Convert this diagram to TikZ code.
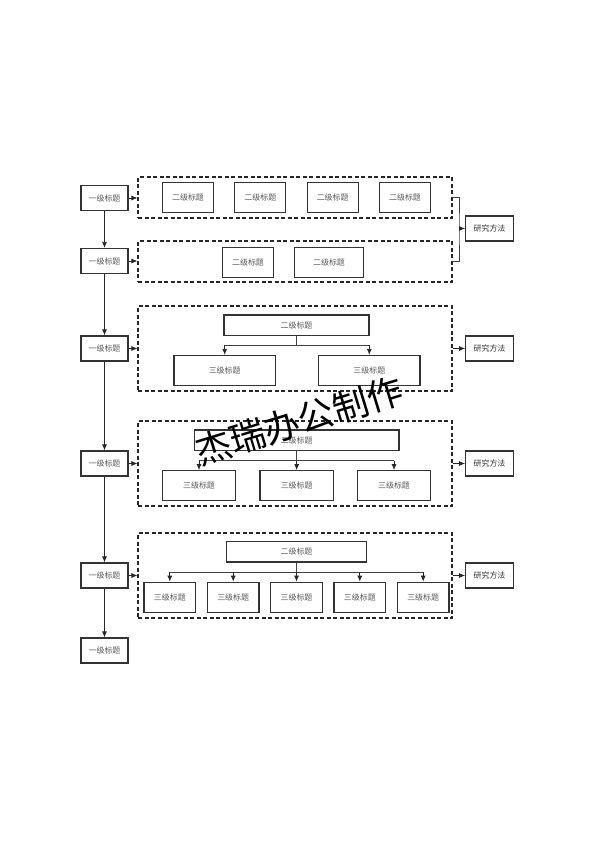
\documentclass[tikz,border=0pt]{standalone}
\usepackage{fontspec}
\newfontfamily\cjk{Noto Sans CJK SC}
\usetikzlibrary{arrows.meta, positioning, calc}

\begin{document}
\begin{tikzpicture}[x=1bp, y=-1bp, thick]
    \tikzstyle{yiji} = [rectangle, draw=black!80, line width=1.2pt, minimum width=47bp, minimum height=25bp, inner sep=0pt, text=black!65, font=\cjk\fontsize{8}{9}\selectfont]
    \tikzstyle{erji} = [yiji, minimum width=51bp, minimum height=30bp]
    \tikzstyle{sanji} = [erji]
    \tikzstyle{biaoti} = [yiji, minimum height=20.7bp]
    \tikzstyle{fangfa} = [yiji, minimum width=47.6bp, text=black!80]
    \tikzstyle{group} = [rectangle, draw=black!85, dash pattern=on 4bp off 2.5bp, line width=1.1pt, minimum width=314bp, inner sep=0pt]
    \tikzstyle{line} = [draw, black!85, line width=0.8pt, -{Latex[length=6bp,width=5bp]}]
    \tikzstyle{wire} = [draw, black!75, line width=0.8pt]

    \useasboundingbox (0,0) rectangle (594,841);

    % left column
    \node [yiji] (l1a) at (104.5,198) {一级标题};
    \node [yiji] (l1b) at (104.5,261) {一级标题};
    \node [yiji] (l1c) at (104.5,348.5) {一级标题};
    \node [yiji] (l1d) at (104.5,463.5) {一级标题};
    \node [yiji] (l1e) at (104.5,575.5) {一级标题};
    \node [yiji] (l1f) at (104.5,650.5) {一级标题};

    % dashed groups
    \node [group, minimum height=41bp] (g1) at (295,197.5) {};
    \node [group, minimum height=41bp] (g2) at (295,261.5) {};
    \node [group, minimum height=85bp] (g3) at (295,348.5) {};
    \node [group, minimum height=85bp] (g4) at (295,463.5) {};
    \node [group, minimum height=85bp] (g5) at (295,575.5) {};

    % methods
    \node [fangfa] (f1) at (489.5,228.5) {研究方法};
    \node [fangfa] (f3) at (489.5,348.5) {研究方法};
    \node [fangfa] (f4) at (489.5,463.5) {研究方法};
    \node [fangfa] (f5) at (489.5,575.5) {研究方法};

    % group 1 and 2
    \node [erji] (e1a) at (188,197.5) {二级标题};
    \node [erji] (e1b) at (260.3,197.5) {二级标题};
    \node [erji] (e1c) at (332.7,197.5) {二级标题};
    \node [erji] (e1d) at (405,197.5) {二级标题};
    \node [erji] (e2a) at (248,262.5) {二级标题};
    \node [erji, minimum width=69bp] (e2b) at (329,262.5) {二级标题};

    % group 3
    \node [biaoti, minimum width=145bp] (t3) at (296.5,325.3) {二级标题};
    \node [sanji, minimum width=101.3bp] (s3a) at (224.7,370.5) {三级标题};
    \node [sanji, minimum width=101.3bp] (s3b) at (369.3,370.5) {三级标题};

    % group 4
    \node [biaoti, minimum width=204.7bp] (t4) at (296.7,440.3) {二级标题};
    \node [sanji, minimum width=73.4bp] (s4a) at (199,485.7) {三级标题};
    \node [sanji, minimum width=73.4bp] (s4b) at (296.7,485.7) {三级标题};
    \node [sanji, minimum width=73.4bp] (s4c) at (394,485.7) {三级标题};

    % group 5
    \node [biaoti, minimum width=139.6bp] (t5) at (296.5,551.7) {二级标题};
    \node [sanji, minimum width=51.7bp] (s5a) at (169.8,597.2) {三级标题};
    \node [sanji, minimum width=51.7bp] (s5b) at (233.2,597.2) {三级标题};
    \node [sanji, minimum width=51.7bp] (s5c) at (296.5,597.2) {三级标题};
    \node [sanji, minimum width=51.7bp] (s5d) at (359.8,597.2) {三级标题};
    \node [sanji, minimum width=51.7bp] (s5e) at (423.2,597.2) {三级标题};

    % main column arrows
    \foreach \a/\b in {l1a/l1b, l1b/l1c, l1c/l1d, l1d/l1e, l1e/l1f}
        \path [line] (\a) -- (\b);
    \foreach \a/\b in {l1a/g1, l1b/g2, l1c/g3, l1d/g4, l1e/g5}
        \path [line] (\a.east) -- (\a.east -| \b.west);

    % bracket to methods
    \coordinate (kuo) at (459,228.5);
    \path [wire] (g1.east) -| (kuo) |- (g2.east);
    \path [line] (kuo) -- (f1.west);
    \foreach \g/\f in {g3/f3, g4/f4, g5/f5}
        \path [line] (\g.east) -- (\f.west);

    % trees
    \coordinate (bus3) at (296.5,345);
    \coordinate (bus4) at (296.7,460.7);
    \coordinate (bus5) at (296.5,572);
    \path [wire] (t3.south) -- (bus3) (bus3 -| s3a) -- (bus3 -| s3b);
    \path [wire] (t4.south) -- (bus4) (bus4 -| s4a) -- (bus4 -| s4c);
    \path [wire] (t5.south) -- (bus5) (bus5 -| s5a) -- (bus5 -| s5e);
    \foreach \s in {s3a, s3b}
        \path [line] (bus3 -| \s) -- (\s.north);
    \foreach \s in {s4a, s4b, s4c}
        \path [line] (bus4 -| \s) -- (\s.north);
    \foreach \s in {s5a, s5b, s5c, s5d, s5e}
        \path [line] (bus5 -| \s) -- (\s.north);

    % watermark
    \node [rotate=17, font=\cjk\fontsize{36}{36}\selectfont] (shuiyin) at (299,421) {杰瑞办公制作};
\end{tikzpicture}
\end{document}
